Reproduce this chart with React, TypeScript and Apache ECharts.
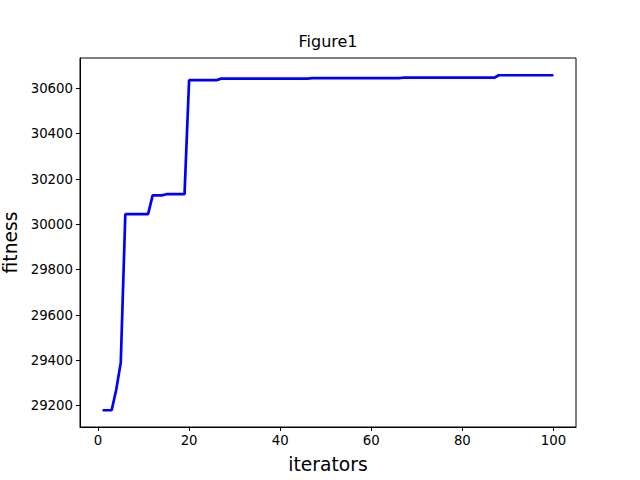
import React, { useEffect, useRef } from "react";
import * as echarts from "echarts";

const iterations = [
  1, 2, 3, 4, 5, 6, 7, 8, 9, 10,
  11, 12, 13, 14, 15, 16, 17, 18, 19, 20,
  21, 22, 23, 24, 25, 26, 27, 28, 29, 30,
  31, 32, 33, 34, 35, 36, 37, 38, 39, 40,
  41, 42, 43, 44, 45, 46, 47, 48, 49, 50,
  51, 52, 53, 54, 55, 56, 57, 58, 59, 60,
  61, 62, 63, 64, 65, 66, 67, 68, 69, 70,
  71, 72, 73, 74, 75, 76, 77, 78, 79, 80,
  81, 82, 83, 84, 85, 86, 87, 88, 89, 90,
  91, 92, 93, 94, 95, 96, 97, 98, 99, 100,
];

const fitness = [
  29180, 29180, 29180, 29270, 29390, 30045, 30045, 30045, 30045, 30045,
  30045, 30128, 30128, 30128, 30133, 30133, 30133, 30133, 30133, 30636,
  30636, 30636, 30636, 30636, 30636, 30636, 30643, 30643, 30643, 30643,
  30643, 30643, 30643, 30643, 30643, 30643, 30643, 30643, 30643, 30643,
  30643, 30643, 30643, 30643, 30643, 30643, 30645, 30645, 30645, 30645,
  30645, 30645, 30645, 30645, 30645, 30645, 30645, 30645, 30645, 30645,
  30645, 30645, 30645, 30645, 30645, 30645, 30647, 30647, 30647, 30647,
  30647, 30647, 30647, 30647, 30647, 30647, 30647, 30647, 30647, 30647,
  30647, 30647, 30647, 30647, 30647, 30647, 30647, 30658, 30658, 30658,
  30658, 30658, 30658, 30658, 30658, 30658, 30658, 30658, 30658, 30658,
];

const xTicks = [0, 20, 40, 60, 80, 100];
const yTicks = [29200, 29400, 29600, 29800, 30000, 30200, 30400, 30600];

const FONT = "DejaVu Sans";

export default function App() {
  const ref = useRef<HTMLDivElement>(null);
  useEffect(() => {
    document.body.style.margin = "0";
    const chart = echarts.init(ref.current!, null, { renderer: "svg" });
    chart.setOption({
      animation: false,
      backgroundColor: "#ffffff",
      title: {
        text: "Figure1",
        left: 328,
        top: 33,
        textAlign: "center",
        padding: 0,
        textStyle: { fontFamily: FONT, fontSize: 16, fontWeight: "normal", color: "#000" },
      },
      grid: {
        left: 80,
        right: 64,
        top: 58,
        bottom: 53,
        containLabel: false,
        outerBoundsMode: "none",
        show: true,
        borderColor: "#000",
        borderWidth: 1,
        backgroundColor: "transparent",
      },
      xAxis: {
        type: "value",
        min: -3.95,
        max: 104.95,
        name: "iterators",
        nameLocation: "middle",
        nameGap: 28,
        nameTextStyle: { fontFamily: FONT, fontSize: 18.7, color: "#000" },
        splitLine: { show: false },
        axisLine: { show: true, onZero: false, lineStyle: { color: "#000", width: 1 } },
        axisTick: { show: true, length: 4, customValues: xTicks, lineStyle: { color: "#000" } },
        axisLabel: {
          customValues: xTicks,
          margin: 7,
          formatter: (v: number) => String(v),
          fontFamily: FONT,
          fontSize: 13.3,
          color: "#000",
        },
      },
      yAxis: {
        type: "value",
        min: 29106,
        max: 30734,
        name: "fitness",
        nameLocation: "middle",
        nameGap: 58,
        nameTextStyle: { fontFamily: FONT, fontSize: 18.7, color: "#000" },
        splitLine: { show: false },
        axisLine: { show: true, onZero: false, lineStyle: { color: "#000", width: 1 } },
        axisTick: { show: true, length: 4, customValues: yTicks, lineStyle: { color: "#000" } },
        axisLabel: {
          customValues: yTicks,
          margin: 7,
          formatter: (v: number) => String(v),
          fontFamily: FONT,
          fontSize: 13.3,
          color: "#000",
        },
      },
      series: [
        {
          type: "line",
          data: iterations.map((x, i) => [x, fitness[i]]),
          showSymbol: false,
          lineStyle: { color: "#0000ff", width: 2.7 },
          itemStyle: { color: "#0000ff" },
        },
      ],
    });
    return () => chart.dispose();
  }, []);
  return <div ref={ref} style={{ width: 640, height: 480 }} />;
}
